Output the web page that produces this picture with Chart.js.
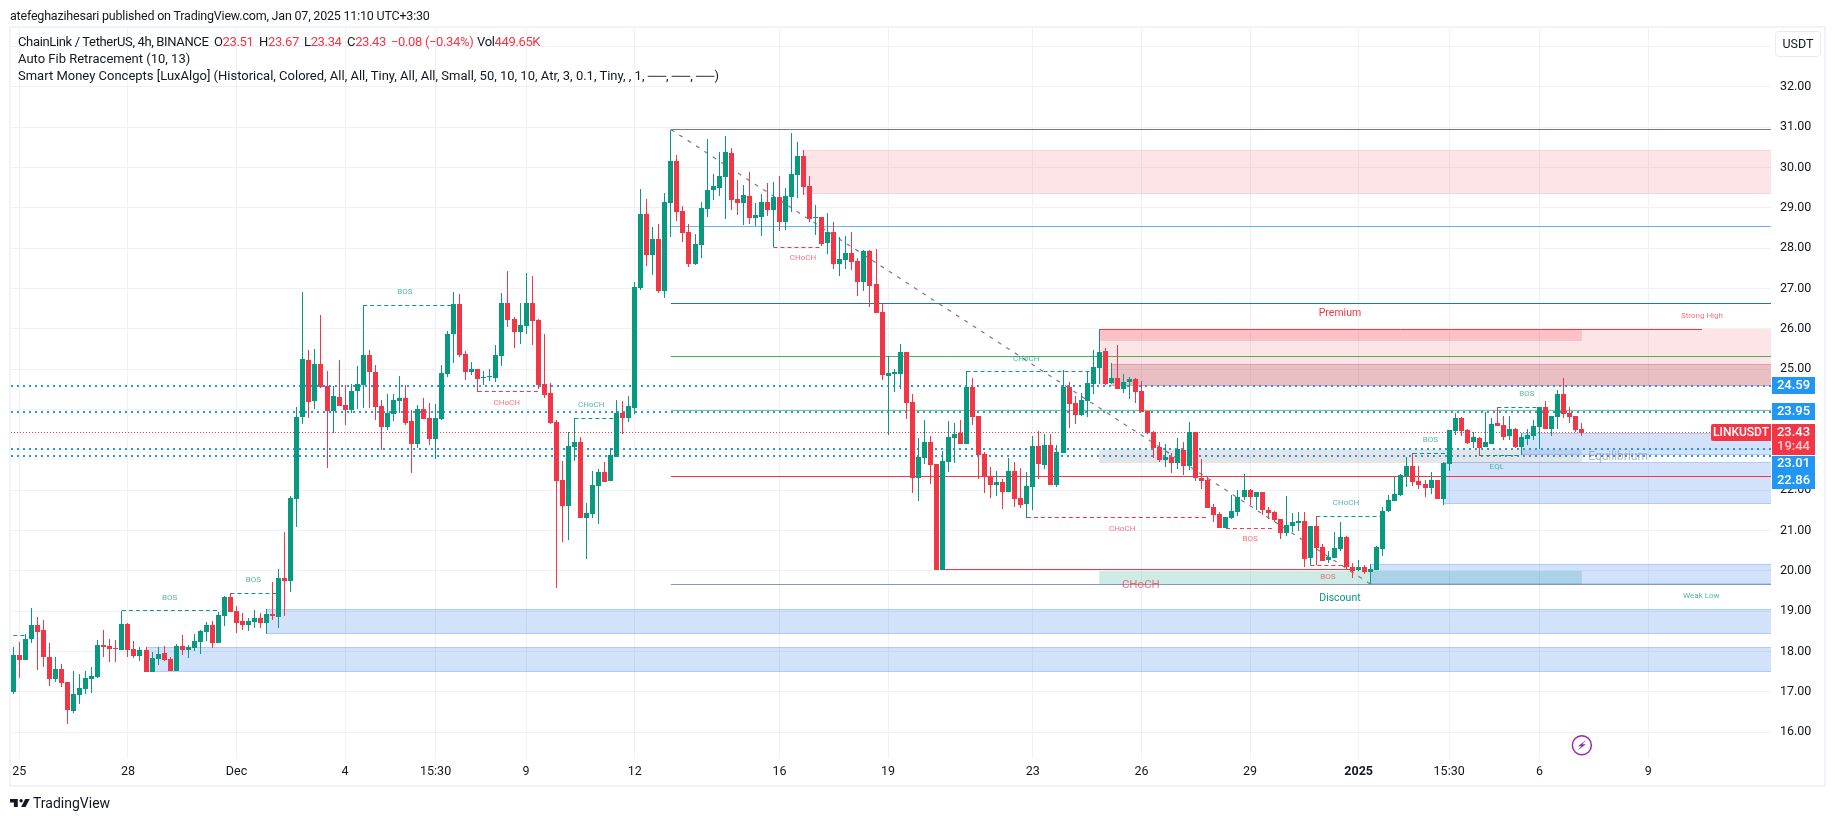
<!DOCTYPE html>
<html>
<head>
<meta charset="utf-8">
<title>LINKUSDT 4h</title>
<script src="https://cdn.jsdelivr.net/npm/chart.js@4/dist/chart.umd.min.js"></script>
<style>
  html, body { margin: 0; padding: 0; background: #fff; }
  body { width: 1835px; height: 821px; overflow: hidden; position: relative; font-family: Roboto, sans-serif; color: #131722; }
  canvas { position: absolute; left: 0; top: 0; }
  .txt { position: absolute; white-space: pre; font-size: 13px; line-height: 17px; }
  .tight { letter-spacing: -0.35px; }
  .red { color: #f23645; }
  .usdt { position: absolute; left: 1775px; top: 31px; width: 44px; height: 24px; border: 1.5px solid #e8ebf2; border-radius: 4px; text-align: center; line-height: 24px; font-size: 12.5px; }
  .logo { position: absolute; left: 10px; top: 797px; }
</style>
</head>
<body>
<canvas id="chart" width="1835" height="821"></canvas>
<div class="txt" style="left:10px;top:7px;font-size:12.5px;letter-spacing:-0.2px">atefeghazihesari published on TradingView.com, Jan 07, 2025 11:10 UTC+3:30</div>
<div class="txt tight" style="left:18px;top:33px">ChainLink / TetherUS, 4h, BINANCE</div>
<div class="txt tight" style="left:214px;top:33px">O<span class="red">23.51</span></div>
<div class="txt tight" style="left:259px;top:33px">H<span class="red">23.67</span></div>
<div class="txt tight" style="left:304px;top:33px">L<span class="red">23.34</span></div>
<div class="txt tight" style="left:347px;top:33px">C<span class="red">23.43</span></div>
<div class="txt red tight" style="left:391px;top:33px">−0.08 (−0.34%)</div>
<div class="txt tight" style="left:477px;top:33px">Vol<span class="red">449.65K</span></div>
<div class="txt" style="left:18px;top:50px">Auto Fib Retracement (10, 13)</div>
<div class="txt" style="left:18px;top:67px">Smart Money Concepts [LuxAlgo] (Historical, Colored, All, All, Tiny, All, All, Small, 50, 10, 10, Atr, 3, 0.1, Tiny, , 1, ──, ──, ──)</div>
<div class="usdt">USDT</div>
<svg class="logo" width="20" height="12" viewBox="0 5 36 16"><path d="M14 6H0v6h7v8h7V6Z" fill="#131722"/><circle cx="20" cy="9" r="3" fill="#131722"/><path d="M28 20h-8l7.5-14h8L28 20Z" fill="#131722"/></svg>
<div class="txt" style="left:33px;top:794px;font-size:14px;line-height:18px">TradingView</div>

<script>
// Candles, one entry per 4h bar
const opens = [
    17.00,17.92,17.79,18.31,18.66,18.54,17.87,17.32,17.57,17.25,
    16.53,16.92,17.07,17.32,17.37,18.16,18.14,18.09,18.04,18.68,
    18.06,17.89,18.04,17.49,17.82,17.97,17.82,17.52,18.14,18.04,
    18.09,18.24,18.49,18.66,18.21,18.88,19.35,19.01,18.76,18.66,
    18.73,18.83,18.71,18.93,18.86,19.82,19.75,21.78,23.81,25.23,
    24.21,25.13,24.58,23.96,24.31,24.11,23.99,24.46,24.61,25.35,
    24.93,24.09,23.57,23.89,24.21,24.29,23.72,23.15,24.01,23.79,
    23.27,23.77,24.88,25.87,26.61,25.38,24.93,25.00,24.79,24.81,
    24.78,25.33,26.64,26.24,25.92,26.07,26.64,26.22,24.63,24.41,
    23.69,22.25,21.61,23.07,23.20,21.31,21.41,22.11,22.45,22.23,
    22.82,23.91,23.79,24.04,27.01,28.85,27.83,28.23,26.94,29.12,
    30.16,28.92,28.40,27.61,28.08,28.97,29.44,29.49,29.76,30.36,
    29.22,29.12,29.29,28.75,28.77,29.14,28.94,29.27,28.65,29.27,
    29.81,30.28,29.54,28.75,28.77,28.13,28.40,27.61,27.71,27.88,
    27.68,27.16,27.93,27.11,26.42,24.83,24.88,24.88,25.42,24.19,
    22.30,22.80,23.19,22.65,20.02,22.70,23.29,23.42,23.15,24.56,
    23.84,22.90,22.35,22.13,22.20,21.96,22.48,21.81,21.66,22.08,
    23.10,22.63,23.12,22.13,22.92,24.56,24.16,23.86,24.21,24.63,
    25.03,25.45,24.66,24.78,24.51,24.68,24.76,24.46,23.96,23.44,
    23.07,22.75,22.82,22.68,22.99,22.60,23.44,22.30,22.25,21.58,
    21.41,21.06,21.31,21.46,21.83,22.00,21.83,21.96,21.51,21.46,
    21.29,20.94,21.11,21.19,21.24,20.32,21.11,20.59,20.27,20.32,
    20.54,20.84,20.10,20.02,20.10,19.97,20.02,20.54,21.49,21.73,
    21.88,22.35,22.60,22.23,22.15,22.05,22.25,21.78,22.65,23.47,
    23.79,23.49,23.20,23.29,23.07,23.15,23.67,23.62,23.34,23.52,
    23.07,23.27,23.34,23.57,24.06,23.52,23.82,24.38,23.91,23.84,23.51
];
const highs = [
    18.11,18.24,18.44,19.08,18.86,18.78,18.21,17.87,17.69,17.25,
    17.52,17.44,17.52,17.62,18.29,18.54,18.31,18.29,19.01,18.71,
    18.26,18.11,18.11,17.99,18.11,18.14,17.87,18.19,18.41,18.16,
    18.44,18.54,18.73,18.76,18.98,19.38,19.45,19.13,18.96,18.83,
    19.03,18.96,19.06,19.72,20.05,20.96,21.86,24.06,26.91,25.47,
    25.50,26.34,24.95,24.58,25.23,24.61,24.63,25.08,26.58,25.47,
    25.10,24.24,24.38,24.38,24.83,24.61,23.99,24.11,24.29,24.16,
    24.14,25.10,25.95,26.91,26.86,25.45,25.18,25.00,24.95,25.00,
    25.60,26.89,27.43,26.29,26.64,27.38,27.31,26.24,25.87,24.66,
    23.74,22.72,23.44,23.79,23.32,21.68,22.48,22.53,22.70,23.05,
    24.24,24.21,24.34,27.16,29.46,29.22,28.52,28.60,29.37,30.93,
    30.31,29.04,28.60,28.35,29.14,30.70,29.84,30.38,30.78,30.48,
    29.69,29.56,29.89,29.12,29.34,29.61,29.64,29.79,29.49,30.85,
    30.63,30.43,29.79,29.07,28.77,28.87,28.65,28.28,28.30,28.40,
    27.76,27.95,27.95,27.98,26.62,25.33,25.00,25.62,25.42,24.38,
    23.29,23.74,23.34,22.65,22.97,23.72,23.67,23.74,24.95,24.78,
    23.84,22.95,22.58,22.48,22.28,22.80,22.70,22.55,22.45,23.34,
    23.47,23.39,23.39,23.12,24.98,24.68,24.33,24.41,24.95,25.47,
    25.99,25.52,25.15,25.60,24.88,24.81,24.78,24.71,23.96,23.47,
    23.19,23.15,22.92,23.29,23.19,23.69,23.44,22.77,22.33,21.66,
    21.46,21.34,21.88,22.00,22.40,22.03,21.96,21.96,21.58,21.48,
    21.29,21.86,21.43,21.46,21.46,21.11,21.36,20.67,20.49,20.97,
    21.21,20.86,20.20,20.27,20.15,20.17,20.62,21.58,21.88,22.33,
    22.40,22.82,22.92,22.60,22.25,22.45,22.25,22.70,23.49,23.91,
    23.81,23.52,23.44,23.32,23.94,23.79,24.06,23.84,23.84,23.54,
    23.42,23.52,23.74,24.06,24.21,23.84,24.48,24.78,24.06,23.84,23.67
];
const lows = [
    16.95,17.35,17.79,18.21,17.54,17.62,17.15,17.25,17.12,16.21,
    16.48,16.70,16.95,16.97,17.35,17.87,17.74,17.74,18.04,17.87,
    17.84,17.77,17.49,17.49,17.67,17.77,17.52,17.52,17.92,17.84,
    18.01,17.94,18.26,18.09,18.21,18.63,18.98,18.46,18.54,18.51,
    18.59,18.59,18.44,18.78,18.59,18.87,19.48,21.09,23.64,23.79,
    24.01,24.53,22.55,23.42,24.09,23.62,23.91,24.01,24.04,24.04,
    23.74,23.00,23.49,23.72,23.91,23.62,22.43,23.05,23.77,23.12,
    22.77,23.74,24.81,25.15,25.30,24.73,24.86,24.44,24.61,24.71,
    24.68,25.08,26.04,25.52,25.62,25.87,25.60,24.51,24.29,23.64,
    19.58,20.72,20.77,22.72,21.31,20.30,21.31,21.16,22.20,22.23,
    22.82,23.39,23.69,23.89,26.96,27.56,27.33,26.89,26.76,28.28,
    28.67,28.15,27.53,27.58,27.76,28.77,29.19,29.29,28.72,28.94,
    28.82,28.57,28.60,28.55,28.30,28.80,28.03,28.42,28.45,28.90,
    29.24,29.32,28.65,28.33,28.05,27.86,27.48,27.31,27.48,27.46,
    26.81,26.94,26.54,26.39,24.73,23.37,24.43,24.51,23.77,21.93,
    21.73,22.65,22.15,20.02,20.02,22.45,22.67,23.15,23.15,23.62,
    22.28,21.93,21.81,21.86,21.53,21.96,21.58,21.56,21.32,21.51,
    22.28,22.53,22.13,22.08,22.92,23.54,23.64,23.84,23.81,24.38,
    24.63,24.61,24.63,24.51,24.41,24.26,24.16,23.94,23.39,22.80,
    22.70,22.58,22.43,22.53,22.38,22.50,22.23,22.03,21.56,21.21,
    21.06,21.06,21.29,21.36,21.76,21.63,21.51,21.39,21.29,21.21,
    20.79,20.87,20.96,20.99,20.10,20.15,20.15,20.25,20.20,20.32,
    20.49,20.02,19.82,20.00,19.92,19.68,20.02,20.37,21.46,21.73,
    21.86,22.08,22.10,22.03,21.83,21.91,21.78,21.63,22.48,23.37,
    23.34,23.14,23.05,22.85,23.07,23.15,23.59,23.25,23.25,23.05,
    22.87,23.12,23.25,23.02,23.52,23.34,23.52,23.79,23.67,23.44,23.34
];
const closes = [
    17.92,17.79,18.31,18.66,18.49,17.87,17.32,17.57,17.22,16.55,
    16.95,17.10,17.35,17.40,18.16,18.11,18.06,18.06,18.68,18.04,
    17.89,18.04,17.49,17.84,17.94,17.79,17.52,18.14,18.04,18.11,
    18.26,18.51,18.66,18.21,18.91,19.35,18.98,18.71,18.66,18.76,
    18.83,18.71,18.93,18.88,19.82,19.75,21.81,23.81,25.25,24.19,
    25.13,24.56,23.96,24.33,24.09,23.99,24.46,24.63,25.35,24.93,
    24.06,23.57,23.91,24.24,24.29,23.67,23.15,24.01,23.77,23.27,
    23.79,24.90,25.87,26.61,25.35,24.93,25.00,24.76,24.81,24.82,
    25.35,26.64,26.22,25.92,26.09,26.64,26.19,24.61,24.36,23.67,
    22.23,21.61,23.10,23.20,21.31,21.43,22.13,22.45,22.20,22.87,
    23.91,23.79,24.09,27.04,28.85,27.83,28.23,26.94,29.14,30.16,
    28.90,28.38,27.61,28.10,29.00,29.44,29.53,29.79,30.38,29.19,
    29.12,29.32,28.75,28.82,29.14,28.94,29.27,28.65,29.29,29.84,
    30.28,29.52,28.72,28.77,28.10,28.40,27.61,27.73,27.88,27.66,
    27.16,27.93,27.06,26.39,24.86,24.90,24.93,25.42,24.16,22.30,
    22.82,23.19,22.63,20.02,22.72,23.32,23.39,23.15,24.56,23.81,
    22.87,22.33,22.13,22.20,21.96,22.48,21.78,21.63,22.10,23.10,
    22.65,23.12,22.13,22.95,24.56,24.14,23.86,24.24,24.66,25.05,
    25.42,24.63,24.78,24.51,24.68,24.76,24.43,23.94,23.42,23.05,
    22.75,22.82,22.68,23.02,22.60,23.44,22.30,22.23,21.56,21.39,
    21.06,21.34,21.48,21.83,22.00,21.83,21.96,21.51,21.43,21.26,
    20.94,21.14,21.21,21.24,20.30,21.11,20.57,20.25,20.35,20.57,
    20.84,20.10,20.00,20.10,19.97,20.05,20.59,21.49,21.76,21.91,
    22.38,22.60,22.20,22.13,22.05,22.25,21.78,22.67,23.49,23.79,
    23.47,23.17,23.32,23.05,23.20,23.64,23.59,23.32,23.52,23.07,
    23.32,23.37,23.59,24.06,23.52,23.84,24.38,23.89,23.82,23.49,23.43
];

// Time axis labels and the bar each one sits on
const timeTickBars = [1, 19, 37, 55, 70, 85, 103, 127, 145, 169, 187, 205, 223, 238, 253, 271];
const timeTickLabels = ['25', '28', 'Dec', '4', '15:30', '9', '12', '16', '19', '23', '26', '29', '2025', '15:30', '6', '9'];
const priceTicks = [16, 17, 18, 19, 20, 21, 22, 23, 24, 25, 26, 27, 28, 29, 30, 31, 32];

// Auto fib levels
const fibPrices = [30.94, 28.54, 26.63, 25.32, 23.97, 22.34, 19.67];
const fibColors = ['#787b86', '#64b5f6', '#1b8270', '#4caf50', '#81c784', '#f23645', '#8a93bd'];
const fibStartBar = 109;
const fibTrendBars = [109, 225];
const fibTrendPrices = [30.94, 19.67];

// Horizontal rays drawn by hand on the chart
const rayPrices = [24.59, 23.95, 23.01, 22.86];
const lastPrice = 23.43;

// Structure breaks (BOS / CHoCH) as dashed lines
const breakFrom = [0, 18, 36, 58, 77, 93, 126, 158, 168, 201, 215, 216, 232, 246, 243];
const breakTo = [2, 34, 44, 73, 87, 100, 134, 179, 198, 209, 221, 227, 238, 253, 250];
const breakPrices = [18.40, 19.01, 19.44, 26.58, 24.45, 23.78, 28.02, 24.95, 21.33, 21.05, 20.14, 21.35, 22.92, 24.05, 22.87];
const breakColors = ['#089981', '#089981', '#089981', '#089981', '#f23645', '#089981', '#f23645', '#089981', '#f23645', '#f23645', '#f23645', '#089981', '#089981', '#089981', '#089981'];

// Solid structure lines: big CHoCH and strong high
const solidFrom = [154, 180];
const solidTo = [222, 279.9];
const solidPrices = [20.04, 25.99];

// Zones
const zoneFrom = [42, 22, 131, 180, 180, 182, 180, 180, 225, 237, 250];
const zoneTo = [291.35, 291.35, 291.35, 291.35, 260, 291.35, 260, 260, 291.35, 291.35, 291.35];
const zoneTops = [19.05, 18.11, 30.42, 25.99, 25.99, 25.14, 23.00, 19.99, 20.17, 22.70, 23.42];
const zoneBottoms = [18.44, 17.50, 29.33, 24.59, 25.70, 24.59, 22.67, 19.67, 19.68, 21.65, 22.87];
const BLUE_ZONE = 'rgba(33,110,235,.2)';
const zoneFills = [BLUE_ZONE, BLUE_ZONE, 'rgba(242,54,69,.13)', 'rgba(242,54,69,.13)', 'rgba(242,54,69,.2)',
    'rgba(160,40,50,.2)', 'rgba(120,123,134,.2)', 'rgba(8,153,129,.2)', BLUE_ZONE, BLUE_ZONE, BLUE_ZONE];
const zoneBorders = [BLUE_ZONE, BLUE_ZONE, 'rgba(242,54,69,.1)', null, null, 'rgba(160,40,50,.2)', null, null, BLUE_ZONE, BLUE_ZONE, BLUE_ZONE];

// Small labels on the chart
const labelTexts = ['BOS', 'BOS', 'BOS', 'CHoCH', 'CHoCH', 'CHoCH', 'CHoCH', 'CHoCH', 'BOS', 'BOS', 'CHoCH', 'BOS', 'BOS', 'EQL', 'CHoCH', 'Premium', 'Strong High', 'Discount', 'Weak Low', 'Equilibrium'];
const labelBars = [25.9, 39.8, 64.9, 81.8, 95.8, 130.9, 167.9, 183.8, 205, 217.9, 220.9, 234.9, 250.9, 245.9, 186.9, 219.9, 279.9, 219.9, 279.8, 266];
const labelPrices = [19.33, 19.77, 26.90, 24.16, 24.10, 27.75, 25.26, 21.04, 20.79, 19.84, 21.68, 23.24, 24.38, 22.57, 19.65, 26.38, 26.32, 19.33, 19.39, 22.82];
const labelColors = ['g', 'g', 'g', 'r', 'g', 'r', 'g', 'r', 'r', 'r', 'g', 'g', 'g', 'g', 'r', 'R', 'r', 'G', 'g', 'n'];
const labelSizes = [8, 8, 8, 8, 8, 8, 8, 8, 8, 8, 8, 8, 8, 8, 11.5, 10.5, 8, 10.5, 8, 12];

// Price tags on the right axis
const tagTexts = ['24.59', '23.95', '23.01', '22.86'];
const tagShifts = [0, 0, 14.6, 25.2];

const UP = '#089981';
const DOWN = '#f23645';
const X_MIN = -0.38;
const X_MAX = 291.35;
const FONT = 'Roboto, sans-serif';
const AXIS_TEXT = '#131722';

const candleColors = opens.map((o, i) => closes[i] >= o ? UP : DOWN);
const wickData = opens.map((o, i) => ({ x: i, y: [lows[i], highs[i]] }));
const bodyData = opens.map((o, i) => ({ x: i, y: [Math.min(o, closes[i]), Math.max(o, closes[i])] }));

function lineSet(x1, x2, y1, y2, color, width, dash, order) {
    return {
        type: 'line',
        data: [{ x: x1, y: y1 }, { x: x2, y: y2 }],
        borderColor: color,
        borderWidth: width,
        borderDash: dash,
        pointRadius: 0,
        tension: 0,
        order: order
    };
}

const datasets = [
    { type: 'bar', data: bodyData, backgroundColor: candleColors, barThickness: 5, grouped: false, inflateAmount: 0, borderWidth: 0, order: 0 },
    { type: 'bar', data: wickData, backgroundColor: candleColors, barThickness: 1, grouped: false, inflateAmount: 0, borderWidth: 0, order: 1 }
];
fibPrices.forEach((p, i) => datasets.push(lineSet(fibStartBar, X_MAX, p, p, fibColors[i], 1, [], 3)));
datasets.push(lineSet(fibTrendBars[0], fibTrendBars[1], fibTrendPrices[0], fibTrendPrices[1], '#787b86', 1.2, [4, 6], 2));
breakPrices.forEach((p, i) => datasets.push(lineSet(breakFrom[i], breakTo[i], p, p, breakColors[i], 1, [4, 3], 2)));
solidPrices.forEach((p, i) => datasets.push(lineSet(solidFrom[i], solidTo[i], p, p, DOWN, 1, [], 2)));
rayPrices.forEach(p => datasets.push(lineSet(X_MIN, X_MAX, p, p, '#2196f3', 2, [2, 4], 4)));
datasets.push(lineSet(X_MIN, X_MAX, lastPrice, lastPrice, DOWN, 1, [1, 2], 4));

// keeps bars and horizontal lines on whole pixels so they stay sharp
const snapPlugin = {
    id: 'snap',
    afterDatasetsUpdate(chart) {
        chart.getSortedVisibleDatasetMetas().forEach(meta => {
            if (meta.type === 'bar') {
                meta.data.forEach(el => {
                    el.x = Math.floor(el.x) + 0.5;
                    el.y = Math.round(el.y);
                    el.base = Math.round(el.base);
                    if (el.y === el.base) el.base += 1;
                });
            } else {
                const width = chart.data.datasets[meta.index].borderWidth;
                const flat = meta.data[0].y === meta.data[1].y;
                if (flat) {
                    meta.data.forEach(pt => {
                        pt.y = width === 2 ? Math.round(pt.y) : Math.floor(pt.y) + 0.5;
                    });
                }
            }
        });
    }
};

const zonePlugin = {
    id: 'zones',
    beforeDatasetsDraw(chart) {
        const ctx = chart.ctx;
        const xs = chart.scales.x;
        const ys = chart.scales.y;
        ctx.save();
        zoneTops.forEach((top, i) => {
            const x1 = xs.getPixelForValue(zoneFrom[i]);
            const x2 = xs.getPixelForValue(zoneTo[i]);
            const y1 = Math.round(ys.getPixelForValue(top));
            const y2 = Math.round(ys.getPixelForValue(zoneBottoms[i]));
            ctx.fillStyle = zoneFills[i];
            ctx.fillRect(x1, y1, x2 - x1, y2 - y1);
            if (zoneBorders[i]) {
                ctx.fillStyle = zoneBorders[i];
                ctx.fillRect(x1, y1, x2 - x1, 1);
                ctx.fillRect(x1, y2 - 1, x2 - x1, 1);
            }
        });
        ctx.restore();
    }
};

const labelPlugin = {
    id: 'labels',
    afterDatasetsDraw(chart) {
        const ctx = chart.ctx;
        const xs = chart.scales.x;
        const ys = chart.scales.y;
        const colors = { g: 'rgba(8,153,129,.7)', r: 'rgba(242,54,69,.7)', G: '#089981', R: '#f23645', n: 'rgba(120,123,134,.55)' };
        ctx.save();
        ctx.textAlign = 'center';
        ctx.textBaseline = 'middle';
        labelTexts.forEach((text, i) => {
            ctx.font = labelSizes[i] + 'px ' + FONT;
            ctx.fillStyle = colors[labelColors[i]];
            ctx.fillText(text, xs.getPixelForValue(labelBars[i]), ys.getPixelForValue(labelPrices[i]));
        });

        // lightning mark under the last bar
        const cx = xs.getPixelForValue(opens.length - 1);
        const cy = ys.getPixelForValue(15.68);
        ctx.strokeStyle = '#9c27b0';
        ctx.fillStyle = '#9c27b0';
        ctx.lineWidth = 1.5;
        ctx.beginPath();
        ctx.arc(cx, cy, 9.5, 0, Math.PI * 2);
        ctx.stroke();
        ctx.beginPath();
        ctx.moveTo(cx + 4, cy - 5);
        ctx.lineTo(cx - 4, cy + 1);
        ctx.lineTo(cx - 0.5, cy + 1);
        ctx.lineTo(cx - 4, cy + 5);
        ctx.lineTo(cx + 4, cy - 1);
        ctx.lineTo(cx + 0.5, cy - 1);
        ctx.closePath();
        ctx.fill();
        ctx.restore();
    }
};

const framePlugin = {
    id: 'frame',
    afterDraw(chart) {
        const ctx = chart.ctx;
        const ys = chart.scales.y;
        const left = chart.chartArea.right + 1;
        ctx.save();
        ctx.strokeStyle = '#f0f3fa';
        ctx.lineWidth = 2;
        ctx.strokeRect(10, 27, 1815, 759);

        ctx.textAlign = 'center';
        ctx.textBaseline = 'middle';
        ctx.font = '500 13px ' + FONT;
        rayPrices.forEach((p, i) => {
            const y = ys.getPixelForValue(p) + tagShifts[i];
            ctx.fillStyle = '#2196f3';
            ctx.fillRect(left, Math.round(y - 8.5), 43, 17);
            ctx.fillStyle = '#fff';
            ctx.fillText(tagTexts[i], left + 21.5, y);
        });

        const py = ys.getPixelForValue(lastPrice);
        ctx.fillStyle = DOWN;
        ctx.fillRect(left, Math.round(py - 8.5), 43, 31);
        ctx.beginPath();
        ctx.roundRect(left - 61, Math.round(py - 8.5), 60, 17, [2, 0, 0, 2]);
        ctx.fill();
        ctx.fillStyle = '#fff';
        ctx.fillText(lastPrice.toFixed(2), left + 21.5, py);
        ctx.fillStyle = 'rgba(255,255,255,.75)';
        ctx.fillText('19:44', left + 21.5, py + 14.5);
        ctx.fillStyle = '#fff';
        ctx.font = '500 12px ' + FONT;
        ctx.fillText('LINKUSDT', left - 31, py);
        ctx.restore();
    }
};

new Chart(document.getElementById('chart'), {
    type: 'bar',
    data: { datasets: datasets },
    plugins: [snapPlugin, zonePlugin, labelPlugin, framePlugin],
    options: {
        responsive: false,
        animation: false,
        events: [],
        layout: { padding: { left: 11, right: 10, top: 28, bottom: 35 } },
        plugins: { legend: { display: false }, tooltip: { enabled: false } },
        scales: {
            x: {
                type: 'linear',
                min: X_MIN,
                max: X_MAX,
                offset: false,
                afterBuildTicks: scale => {
                    scale.ticks = timeTickBars.map(v => ({ value: v }));
                },
                afterFit: scale => { scale.height = 28; },
                grid: { offset: false, color: '#f0f1f4', drawTicks: false },
                border: { display: false },
                ticks: {
                    autoSkip: false,
                    maxRotation: 0,
                    padding: 6,
                    color: AXIS_TEXT,
                    font: ctx => ({
                        family: FONT,
                        size: 12.5,
                        weight: ctx.tick && ctx.tick.value === 223 ? '700' : '400'
                    }),
                    callback: value => timeTickLabels[timeTickBars.indexOf(value)]
                }
            },
            y: {
                type: 'linear',
                position: 'right',
                min: 15.363,
                max: 33.455,
                afterBuildTicks: scale => {
                    // the 33 gridline has no label, the USDT button sits there
                    scale.ticks = priceTicks.concat([33]).map(v => ({ value: v }));
                },
                afterFit: scale => { scale.width = 54; },
                grid: { color: '#f0f1f4', drawTicks: false },
                border: { display: false },
                ticks: {
                    autoSkip: false,
                    padding: 9,
                    color: AXIS_TEXT,
                    font: { family: FONT, size: 12.5 },
                    callback: value => priceTicks.includes(value) ? value.toFixed(2) : ''
                }
            }
        }
    }
});
</script>
</body>
</html>
